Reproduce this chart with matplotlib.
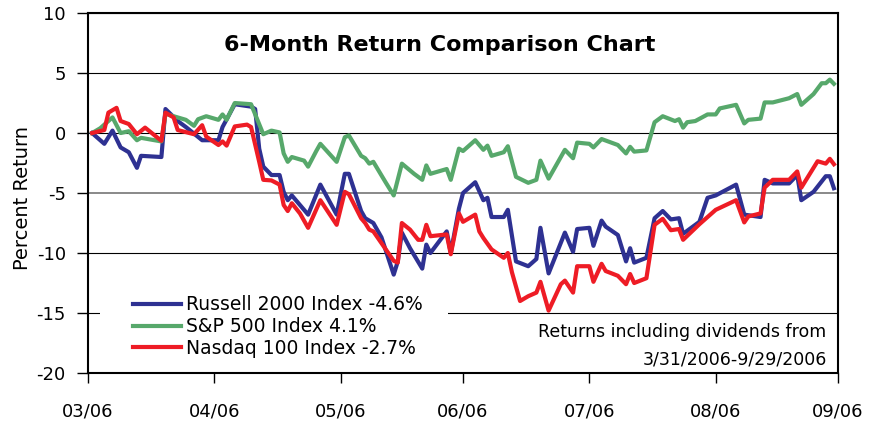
import matplotlib
matplotlib.use("Agg")
import matplotlib.pyplot as plt
import matplotlib.dates as mdates
import pandas as pd
from matplotlib.patches import Rectangle

### Data (days after 3/31/2006, percent return) ###
start = pd.Timestamp("2006-03-31")

russell_days = [0, 3, 5, 7, 9, 11, 12, 17, 18, 21,
                23, 27, 31, 32, 35, 39, 40, 41, 42, 44,
                46, 47, 48, 49, 53, 56, 60, 62, 63, 66,
                67, 69, 71, 74, 75, 76, 78, 81, 82, 83,
                87, 88, 90, 91, 94, 96, 97, 98, 101, 102,
                104, 107, 109, 110, 112, 116, 118, 119, 122, 123,
                125, 126, 129, 131, 132, 133, 136, 138, 140, 142,
                144, 145, 149, 151, 153, 158, 160, 164, 165, 167,
                171, 173, 174, 177, 180, 181, 182]
russell_ret = [0.0, -0.9, 0.2, -1.2, -1.6, -2.9, -1.9, -2.0, 2.0, 1.0,
               0.5, -0.6, -0.6, 0.5, 2.4, 2.2, 2.0, -1.3, -2.8, -3.5,
               -3.5, -4.9, -5.6, -5.2, -6.8, -4.3, -6.8, -3.4, -3.4, -6.5,
               -7.1, -7.5, -8.7, -11.8, -10.7, -8.3, -9.6, -11.3, -9.3, -10.0,
               -8.2, -10.0, -6.3, -5.0, -4.1, -5.6, -5.4, -7.0, -7.0, -6.4,
               -10.7, -11.1, -10.5, -7.9, -11.7, -8.3, -9.9, -8.0, -7.9, -9.4,
               -7.3, -7.8, -8.5, -10.7, -9.6, -10.8, -10.4, -7.1, -6.5, -7.2,
               -7.1, -8.4, -7.4, -5.4, -5.2, -4.3, -6.8, -7.0, -3.9, -4.2,
               -4.2, -3.5, -5.6, -4.9, -3.6, -3.6, -4.6]

sp500_days = [0, 2, 5, 7, 9, 11, 12, 17, 18, 21,
              23, 25, 26, 28, 31, 32, 33, 35, 39, 42,
              44, 46, 47, 48, 49, 52, 53, 55, 56, 60,
              62, 63, 66, 67, 68, 69, 72, 74, 76, 79,
              81, 82, 83, 87, 88, 90, 91, 94, 96, 97,
              98, 101, 102, 104, 107, 109, 110, 112, 116, 118,
              119, 122, 123, 125, 129, 131, 132, 133, 136, 138,
              140, 143, 144, 145, 146, 148, 151, 153, 154, 158,
              160, 161, 164, 165, 167, 171, 173, 174, 177, 179,
              180, 181, 182]
sp500_ret = [0.0, 0.4, 1.3, 0.0, 0.15, -0.6, -0.4, -0.7, 1.6, 1.3,
             1.1, 0.6, 1.15, 1.4, 1.1, 1.55, 1.1, 2.5, 2.4, -0.1,
             0.2, 0.05, -1.7, -2.4, -2.0, -2.3, -2.8, -1.5, -0.9, -2.4,
             -0.35, -0.2, -1.9, -2.1, -2.55, -2.4, -4.1, -5.2, -2.55, -3.4,
             -3.9, -2.7, -3.4, -3.0, -3.9, -1.3, -1.5, -0.6, -1.4, -1.05,
             -1.9, -1.6, -1.1, -3.65, -4.15, -3.9, -2.3, -3.8, -1.4, -2.1,
             -0.8, -0.9, -1.2, -0.5, -1.0, -1.7, -1.15, -1.55, -1.45, 0.9,
             1.4, 1.0, 1.15, 0.45, 0.9, 1.0, 1.55, 1.55, 2.05, 2.35,
             0.8, 1.1, 1.2, 2.55, 2.55, 2.9, 3.25, 2.35, 3.25, 4.15,
             4.15, 4.45, 4.1]

nasdaq_days = [0, 3, 4, 6, 7, 9, 11, 13, 17, 18,
               20, 21, 25, 27, 28, 31, 32, 33, 35, 38,
               39, 41, 42, 44, 46, 47, 48, 49, 51, 53,
               56, 60, 62, 63, 66, 67, 68, 69, 74, 75,
               76, 78, 80, 81, 82, 83, 87, 88, 90, 91,
               94, 95, 96, 98, 101, 102, 103, 105, 107, 109,
               110, 112, 115, 116, 118, 119, 122, 123, 125, 126,
               129, 131, 132, 133, 136, 138, 140, 142, 144, 145,
               149, 151, 153, 158, 160, 161, 164, 165, 167, 171,
               173, 174, 178, 180, 181, 182]
nasdaq_ret = [0.0, 0.25, 1.7, 2.1, 1.0, 0.75, -0.1, 0.45, -0.65, 1.7,
              1.3, 0.25, -0.1, 0.65, -0.3, -1.0, -0.7, -1.05, 0.55, 0.7,
              0.5, -2.4, -3.9, -3.95, -4.3, -6.0, -6.5, -5.85, -6.7, -7.9,
              -5.6, -7.65, -4.9, -5.1, -7.1, -7.5, -8.05, -8.2, -10.65, -10.8,
              -7.5, -8.05, -8.9, -8.9, -7.65, -8.6, -8.45, -10.1, -6.7, -7.4,
              -6.8, -8.2, -8.75, -9.7, -10.4, -10.0, -11.6, -14.0, -13.6, -13.3,
              -12.4, -14.8, -12.6, -12.3, -13.3, -11.1, -11.1, -12.4, -10.9, -11.5,
              -11.9, -12.6, -11.75, -12.5, -12.1, -7.65, -7.15, -8.1, -8.0, -8.9,
              -7.6, -7.0, -6.4, -5.6, -7.45, -6.95, -6.7, -4.55, -3.9, -3.9,
              -3.2, -4.55, -2.35, -2.55, -2.15, -2.6]

series_labels = ["Russell 2000 Index -4.6%", "S&P 500 Index 4.1%", "Nasdaq 100 Index -2.7%"]
series_colors = ["#2E3192", "#57A86B", "#EE1C25"]

tick_dates = ["2006-03-30", "2006-04-30", "2006-05-31", "2006-06-30",
              "2006-07-31", "2006-08-31", "2006-09-30"]
tick_labels = ["03/06", "04/06", "05/06", "06/06", "07/06", "08/06", "09/06"]
y_ticks = [-20, -15, -10, -5, 0, 5, 10]


def to_dates(days):
	return start + pd.to_timedelta(days, unit="D")


# ------ FIGURE ------
plt.rcParams["axes.unicode_minus"] = False
fig = plt.figure(figsize=(8.82, 4.26), dpi=100)
ax = fig.add_axes([0.0998, 0.1244, 0.8503, 0.845])

all_days = [russell_days, sp500_days, nasdaq_days]
all_ret = [russell_ret, sp500_ret, nasdaq_ret]
for days, ret, lab, col in zip(all_days, all_ret, series_labels, series_colors):
	ax.plot(to_dates(days), ret, color=col, lw=3.0, label=lab, zorder=3)

# axes and grid
ax.set_xlim(pd.Timestamp(tick_dates[0]), pd.Timestamp(tick_dates[-1]))
ax.set_ylim(-20, 10)
ax.set_yticks(y_ticks)
ax.set_xticks(pd.to_datetime(tick_dates))
ax.set_xticklabels(tick_labels)
ax.tick_params(axis="y", direction="out", length=8, width=1, pad=8, labelsize=13)
ax.tick_params(axis="x", direction="out", length=7, width=1, pad=14, labelsize=13)
ax.yaxis.grid(True, color="black", lw=0.8)
ax.set_axisbelow(True)
ax.yaxis.get_gridlines()[3].set_color("#808080")
ax.yaxis.get_gridlines()[3].set_linewidth(1.3)
for s in ax.spines.values():
	s.set_linewidth(1.5)
	s.set_color("black")

# white area behind legend hides the -15 gridline
ax.add_patch(Rectangle((0.016, 0.013), 0.464, 0.234, transform=ax.transAxes,
                       facecolor="white", edgecolor="none", zorder=1))

leg = ax.legend(loc="center left", bbox_to_anchor=(0.06, 0.1286), frameon=False,
                fontsize=13.5, handlelength=2.55, handletextpad=0.3,
                labelspacing=0.15, borderaxespad=0, borderpad=0)

ax.text(0.469, 0.911, "6-Month Return Comparison Chart", transform=ax.transAxes,
        ha="center", va="center", fontsize=16, fontweight="bold")
ax.text(0.985, 0.1147, "Returns including dividends from", transform=ax.transAxes,
        ha="right", va="center", fontsize=12.5)
ax.text(0.985, 0.038, "3/31/2006-9/29/2006", transform=ax.transAxes,
        ha="right", va="center", fontsize=12.5)
fig.text(0.025, 0.535, "Percent Return", rotation=90, ha="center", va="center", fontsize=14)

fig.savefig("out.png", dpi=100, facecolor="white")
